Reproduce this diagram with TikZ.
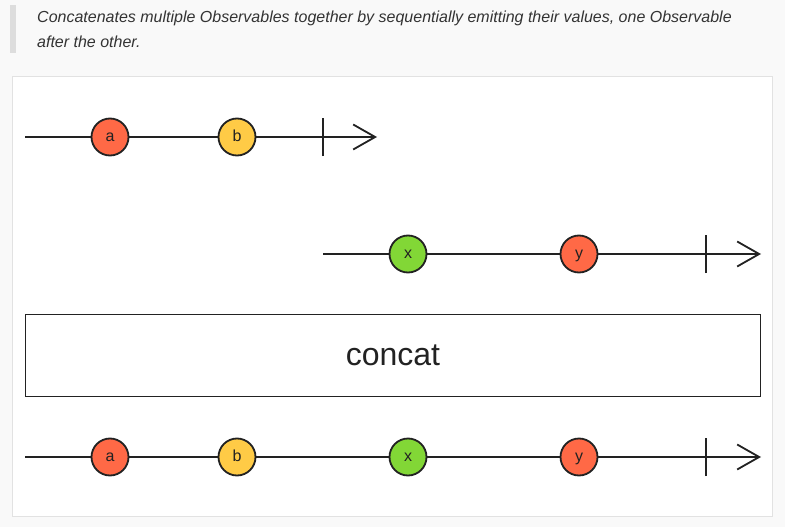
\documentclass[tikz,border=0pt]{standalone}
\usepackage{fontspec}
\setmainfont{Liberation Sans}
\usetikzlibrary{arrows.meta,positioning}
\definecolor{pagebg}{HTML}{F9F9F9}
\definecolor{quotebar}{HTML}{DDDDDD}
\definecolor{quotetext}{HTML}{333333}
\definecolor{panelline}{HTML}{E2E2E2}
\definecolor{ink}{HTML}{222222}
\definecolor{marblered}{HTML}{FF6946}
\definecolor{marbleyellow}{HTML}{FFCB46}
\definecolor{marblegreen}{HTML}{82D736}

\begin{document}
\begin{tikzpicture}[x=1pt,y=-1pt,
  marble/.style={draw=ink, line width=1.8pt, shape=circle, minimum size=37pt,
    inner sep=0pt, text height=8.5pt, text depth=0pt, text=ink,
    font=\fontsize{16}{16}\selectfont},
  timeline/.style={draw=ink, line width=1.8pt},
  endarrow/.style={-{Straight Barb[length=22pt,width=25pt,line width=1.8pt]}}]
  \fill[pagebg] (0,0) rectangle (785,527);
  \fill[quotebar] (10,5) rectangle (16,53);
  \node (desc1) [anchor=west, inner sep=0pt, text=quotetext,
    font=\fontsize{16}{16}\selectfont\itshape] at (37,18)
    {Concatenates multiple Observables together by sequentially emitting their values, one Observable};
  \node (desc2) [anchor=west, inner sep=0pt, text=quotetext,
    font=\fontsize{16}{16}\selectfont\itshape] at (37,42) {after the other.};
  \draw[panelline, fill=white] (12.5,76.5) rectangle (772.5,516.5);

  % first input
  \coordinate (s1) at (25,137);
  \coordinate (t1) at (323,137);
  \coordinate (e1) at (377,137);
  \node (a1) [marble, fill=marblered] at (110,137) {a};
  \node (b1) [marble, fill=marbleyellow] at (237,137) {b};
  \draw[timeline] (s1) -- (a1);
  \draw[timeline] (a1) -- (b1);
  \draw[timeline, endarrow] (b1) -- (e1);
  \draw[timeline] ([yshift=-19pt]t1) -- ([yshift=19pt]t1);

  % second input
  \coordinate (s2) at (323,254);
  \coordinate (t2) at (706,254);
  \coordinate (e2) at (761,254);
  \node (x2) [marble, fill=marblegreen] at (408,254) {x};
  \node (y2) [marble, fill=marblered] at (579,254) {y};
  \draw[timeline] (s2) -- (x2);
  \draw[timeline] (x2) -- (y2);
  \draw[timeline, endarrow] (y2) -- (e2);
  \draw[timeline] ([yshift=-19pt]t2) -- ([yshift=19pt]t2);

  % operator
  \node (op) [draw=ink, line width=1.8pt, minimum width=735pt, minimum height=82pt,
    text=ink, font=\fontsize{32}{32}\selectfont] at (393,355.5) {concat};

  % output
  \coordinate (s3) at (25,457);
  \coordinate (t3) at (706,457);
  \coordinate (e3) at (761,457);
  \node (a3) [marble, fill=marblered] at (110,457) {a};
  \node (b3) [marble, fill=marbleyellow] at (237,457) {b};
  \node (x3) [marble, fill=marblegreen] at (408,457) {x};
  \node (y3) [marble, fill=marblered] at (579,457) {y};
  \draw[timeline] (s3) -- (a3);
  \draw[timeline] (a3) -- (b3);
  \draw[timeline] (b3) -- (x3);
  \draw[timeline] (x3) -- (y3);
  \draw[timeline, endarrow] (y3) -- (e3);
  \draw[timeline] ([yshift=-19pt]t3) -- ([yshift=19pt]t3);
\end{tikzpicture}
\end{document}
